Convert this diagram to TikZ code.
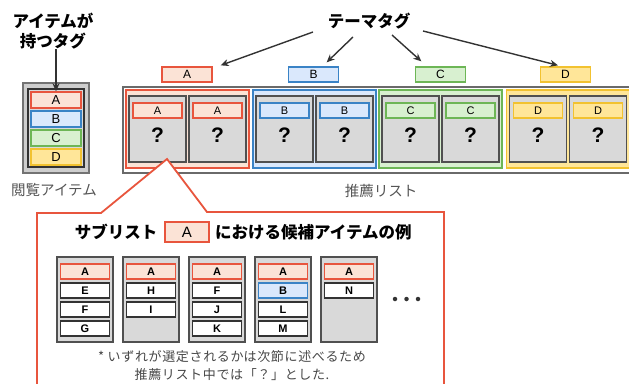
\documentclass[tikz,border=0pt]{standalone}
\usepackage{fontspec}
\setmainfont{Liberation Sans}
\newfontfamily\jp{Noto Sans CJK JP}
\newfontfamily\jpwide{Noto Sans CJK JP}[LetterSpace=5]
\usetikzlibrary{arrows.meta}

% tag colours: L = outline, F = fill
\definecolor{Lr}{HTML}{E8553D}
\definecolor{Fr}{HTML}{FBE3D6}
\definecolor{Lb}{HTML}{3A83C6}
\definecolor{Fb}{HTML}{DAE8FC}
\definecolor{Lg}{HTML}{6DB656}
\definecolor{Fg}{HTML}{D8F0D0}
\definecolor{Ly}{HTML}{F2C230}
\definecolor{Fy}{HTML}{FFE699}
\definecolor{itemfill}{HTML}{D9D9D9}
\definecolor{itemline}{HTML}{505050}
\definecolor{arrowcol}{HTML}{333333}
\definecolor{labelcol}{HTML}{555555}

\begin{document}
\begin{tikzpicture}[x=1pt,y=-1pt,
  tagbox/.style={draw, line width=1.3pt, minimum width=49pt, minimum height=15pt,
    inner sep=0pt, font=\fontsize{11}{11}\selectfont},
  toptag/.style={tagbox, minimum width=50pt, font=\fontsize{12}{12}\selectfont},
  lefttag/.style={tagbox, minimum width=50pt, minimum height=16pt, font=\fontsize{13}{13}\selectfont},
  group/.style={draw, line width=1.8pt, minimum width=123pt, minimum height=78pt, inner sep=0pt},
  item/.style={draw=itemline, fill=itemfill, line width=1.3pt, minimum width=57pt,
    minimum height=66pt, inner sep=0pt},
  qmark/.style={inner sep=0pt, font=\fontsize{21}{21}\selectfont\bfseries},
  cand/.style={draw=itemline, fill=itemfill, line width=1.3pt, minimum width=56pt,
    minimum height=85pt, inner sep=0pt},
  ctag/.style={tagbox, font=\fontsize{11}{11}\selectfont\bfseries},
  wtag/.style={draw=arrowcol, fill=white},
  heading/.style={inner sep=0pt, font=\jp\fontsize{16.5}{20}\selectfont\bfseries},
  caption/.style={inner sep=0pt, text=labelcol, font=\jp\fontsize{14.5}{16}\selectfont},
  arr/.style={draw=arrowcol, line width=1.4pt, -{Stealth[length=8pt,width=7pt]}},
  dot/.style={circle, fill=arrowcol, inner sep=0pt, minimum size=4.5pt},
  callout/.style={draw=Lr, fill=white, line width=1.8pt, line join=miter}
]
\useasboundingbox (0,0) rectangle (629,383);
\clip (0,0) rectangle (629,383);

% ---------- item being viewed ----------
\node[heading, align=center] (lttl) at (53,31) {アイテムが\\持つタグ};
\node[draw=gray!110, fill=itemfill!95!black, line width=1.2pt, minimum width=66pt,
  minimum height=90pt, inner sep=0pt] (lout) at (56,128) {};
\node[draw=arrowcol, fill=itemfill, line width=1.4pt, minimum width=56pt,
  minimum height=78pt, inner sep=0pt] (lin) at (56,128) {};
\foreach \t/\c/\y [count=\i] in {A/r/100,B/b/119,C/g/138,D/y/157}
  \node[lefttag, draw=L\c, fill=F\c] (lt\i) at (56,\y) {\t};
\draw[arr] (lt1.north |- lttl.south) -- (lt1.north);
\node[caption] (lcap) at (54,190) {閲覧アイテム};

% ---------- recommendation list ----------
\node[draw=itemline!85, fill=white, line width=1.8pt, minimum width=530pt,
  minimum height=86pt, inner sep=0pt, anchor=north west] (rec) at (122,86) {};
\foreach \t/\c/\gx/\tx [count=\i] in {A/r/187.5/187,B/b/314.5/313.5,C/g/440.5/440.5,D/y/568/565.5}{
  \node[group, draw=L\c, fill=F\c] (g\i) at (\gx,129) {};
  \node[item] (it\i a) at (\gx-30,129) {};
  \node[item] (it\i b) at (\gx+30,129) {};
  \node[tagbox, draw=L\c, fill=F\c] (itag\i a) at (\gx-30,110.5) {\t};
  \node[tagbox, draw=L\c, fill=F\c] (itag\i b) at (\gx+30,110.5) {\t};
  \node[qmark] (q\i a) at (\gx-30,135.5) {?};
  \node[qmark] (q\i b) at (\gx+30,135.5) {?};
  \node[toptag, draw=L\c, fill=F\c] (tt\i) at (\tx,74.5) {\t};
}
\node[caption] (rcap) at (381,191) {推薦リスト};

% theme tag heading and its arrows
\node[heading] (ttl) at (369,21) {テーマタグ};
\coordinate (s1) at (313,32);
\coordinate (s2) at (353,37);
\coordinate (s3) at (392,35);
\coordinate (s4) at (423,31);
\draw[arr] (s1) -- ([xshift=8pt,yshift=1pt]tt1.north east);
\draw[arr] (s2) -- ([xshift=-12.5pt,yshift=4pt]tt2.north east);
\draw[arr] (s3) -- ([xshift=6.5pt,yshift=5pt]tt3.north west);
\draw[arr] (s4) -- ([xshift=-7.5pt,yshift=1pt]tt4.north);

% ---------- callout for sub-list A ----------
\draw[callout] (37,400) -- (37,213) -- (101,213) -- (167,159) -- (207,212)
  -- (444,212) -- (444,400);

\node[heading] (sub1) at (116,232) {サブリスト};
\node[tagbox, draw=Lr, fill=Fr, minimum width=44pt, minimum height=20pt,
  font=\fontsize{15}{15}\selectfont] (subtag) at (187,232) {A};
\node[heading, anchor=west] (sub2) at (215,232) {における候補アイテムの例};

\foreach \x [count=\j] in {85,151,217,283,349}{
  \node[cand] (c\j) at (\x,299.5) {};
  \node[ctag, draw=Lr, fill=Fr] (c\j a) at (\x,271.5) {A};
}
\node[ctag, wtag] (c1b) at (85,290.5) {E};
\node[ctag, wtag] (c1c) at (85,309.5) {F};
\node[ctag, wtag] (c1d) at (85,328.5) {G};
\node[ctag, wtag] (c2b) at (151,290.5) {H};
\node[ctag, wtag] (c2c) at (151,309.5) {I};
\node[ctag, wtag] (c3b) at (217,290.5) {F};
\node[ctag, wtag] (c3c) at (217,309.5) {J};
\node[ctag, wtag] (c3d) at (217,328.5) {K};
\node[ctag, draw=Lb, fill=Fb] (c4b) at (283,290.5) {B};
\node[ctag, wtag] (c4c) at (283,309.5) {L};
\node[ctag, wtag] (c4d) at (283,328.5) {M};
\node[ctag, wtag] (c5b) at (349,290.5) {N};

\node[dot] (d1) at (395,299) {};
\node[dot] (d2) at (406.5,299) {};
\node[dot] (d3) at (418,299) {};

\node[inner sep=0pt, align=center, text=arrowcol!90,
  font=\jpwide\fontsize{13}{18}\selectfont] (note) at (232,366)
  {* いずれが選定されるかは次節に述べるため\\推薦リスト中では「？」とした.};
\end{tikzpicture}
\end{document}
